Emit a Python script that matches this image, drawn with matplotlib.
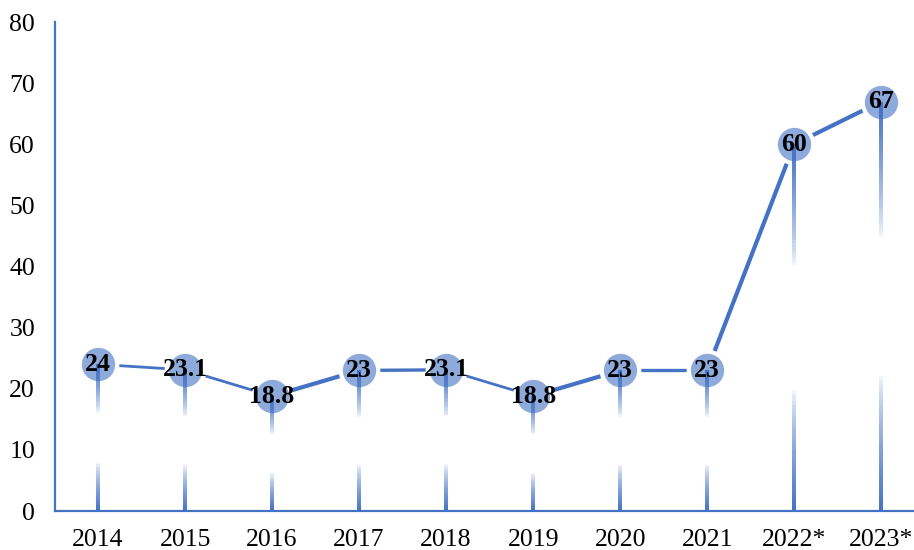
import matplotlib.pyplot as plt
from matplotlib.collections import LineCollection
import numpy as np

years = ['2014', '2015', '2016', '2017', '2018', '2019', '2020', '2021', '2022*', '2023*']
values = [24, 23.1, 18.8, 23, 23.1, 18.8, 23, 23, 60, 67]
labels = ['24', '23.1', '18.8', '23', '23.1', '18.8', '23', '23', '60', '67']
y_ticks = [0, 10, 20, 30, 40, 50, 60, 70, 80]

# segment widths, the line looks uneven in the original
seg_widths = [2.0, 2.0, 3.0, 2.4, 2.0, 3.0, 2.4, 3.0, 3.0]

blue = '#4472c4'
marker_blue = '#8eaadb'

plt.rcParams['font.family'] = ['Liberation Serif', 'DejaVu Serif']

fig = plt.figure(figsize=(9.14, 5.5), dpi=100)
ax = fig.add_axes([0.0597, 0.0709, 0.952, 0.889])

x = np.arange(len(years))

# connecting line, one piece per segment
for i in range(len(values) - 1):
    ax.plot(x[i:i + 2], values[i:i + 2], color=blue, lw=seg_widths[i],
            solid_capstyle='butt', zorder=2)

# markers with a white rim that cuts the line
ax.plot(x, values, linestyle='none', marker='o', markersize=27,
        markerfacecolor=marker_blue, markeredgecolor='white',
        markeredgewidth=3, zorder=3)

# drop lines fading out in the middle
n = 100
for xi, v in zip(x, values):
    ys = np.linspace(0, v, n + 1)
    segs = [[(xi, ys[k]), (xi, ys[k + 1])] for k in range(n)]
    t = (ys[:-1] + ys[1:]) / 2 / v
    alpha = np.clip(np.maximum(1 - 3 * t, 3 * t - 2), 0, 1) ** 0.7
    cols = [(0x44 / 255, 0x72 / 255, 0xc4 / 255, a) for a in alpha]
    lc = LineCollection(segs, colors=cols, linewidths=1.5, zorder=4,
                        antialiaseds=False, capstyle='butt')
    ax.add_collection(lc)

for xi, v, lab in zip(x, values, labels):
    ax.text(xi, v, lab, ha='center', va='center', fontsize=18.5,
            fontweight='bold', color='black', zorder=5)

ax.set_xlim(-0.5, len(years) - 0.5)
ax.set_ylim(0, 80)
ax.set_yticks(y_ticks)
ax.set_xticks(x)
ax.set_xticklabels(years)
ax.tick_params(axis='both', length=0, labelsize=18.5)
ax.tick_params(axis='y', pad=14)
ax.tick_params(axis='x', pad=13)

for side in ['top', 'right']:
    ax.spines[side].set_visible(False)
for side in ['left', 'bottom']:
    ax.spines[side].set_color(blue)
    ax.spines[side].set_linewidth(1.6)

plt.savefig('out.png', dpi=100)
